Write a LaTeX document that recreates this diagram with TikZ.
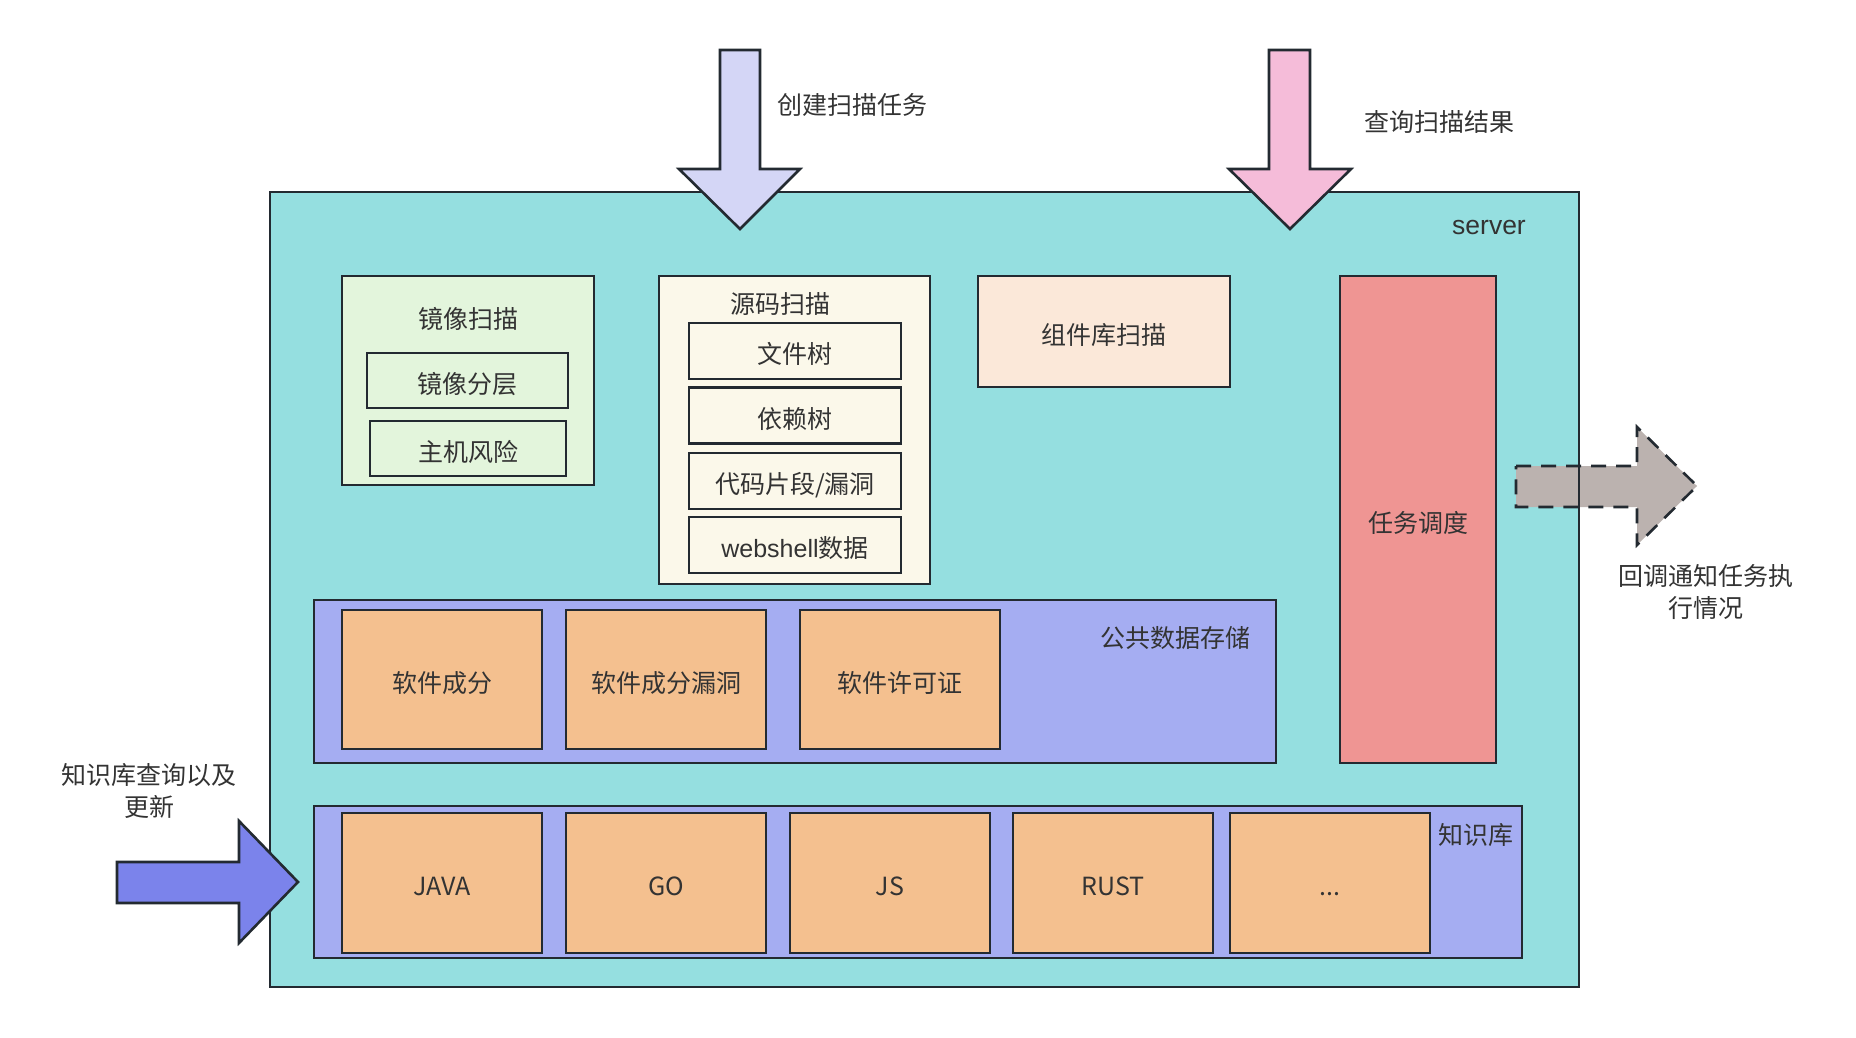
\documentclass[tikz,border=0pt]{standalone}
\usepackage{fontspec}
\setmainfont{Noto Sans CJK SC}
\newfontfamily\latinsans{Liberation Sans}
\definecolor{edge}{HTML}{232A31}
\definecolor{ink}{HTML}{333333}
\definecolor{servercol}{HTML}{95DFE0}
\definecolor{createcol}{HTML}{D4D6F6}
\definecolor{querycol}{HTML}{F5BCD9}
\definecolor{imagecol}{HTML}{E3F5DC}
\definecolor{sourcecol}{HTML}{FBF8EA}
\definecolor{compcol}{HTML}{FBE8D9}
\definecolor{taskcol}{HTML}{EF9593}
\definecolor{storecol}{HTML}{A5ADF2}
\definecolor{itemcol}{HTML}{F4C08F}
\definecolor{kbarrow}{HTML}{7B83EB}
\definecolor{cbarrow}{HTML}{BBB2AF}
\begin{document}
\begin{tikzpicture}[x=1pt,y=-1pt,
  box/.style={draw=edge, line width=2.6pt, inner sep=0pt, text=ink,
    text height=25pt, text depth=0pt,
    font=\fontsize{25}{32}\selectfont},
  txt/.style={inner sep=0pt, text=ink, align=center,
    text height=25pt, text depth=0pt,
    font=\fontsize{25}{32}\selectfont},
  twoline/.style={inner sep=0pt, text=ink, align=center,
    font=\fontsize{25}{32}\selectfont},
  blockarrow/.style={draw=edge, line width=2.6pt, line join=miter}]
\useasboundingbox (0,0) rectangle (1856,1038);

% server frame: fill first, border after the callback arrow
\fill[servercol] (270,192) rectangle (1579,987);
\coordinate (srvNW) at (270,192);
\coordinate (srvSE) at (1579,987);

% callback arrow (dashed), lies under the server border
\draw[blockarrow, fill=cbarrow, dash pattern=on 15pt off 10pt]
  (1516,466) -- (1637,466) -- (1637,427) -- (1697,486) -- (1637,545)
  -- (1637,507) -- (1516,507) -- cycle;
\draw[draw=edge, line width=2.6pt] (srvNW) rectangle (srvSE);
\node[txt, font=\fontsize{26.5}{32}\selectfont\latinsans] (server) at (1489,222) {server};

% incoming arrows
\draw[blockarrow, fill=createcol]
  (720,50) -- (760,50) -- (760,169) -- (800,169) -- (740,229)
  -- (679,169) -- (720,169) -- cycle;
\node[txt] (createlbl) at (852,102.5) {创建扫描任务};

\draw[blockarrow, fill=querycol]
  (1269,50) -- (1310,50) -- (1310,169) -- (1351,169) -- (1290,229)
  -- (1229,169) -- (1269,169) -- cycle;
\node[txt] (querylbl) at (1439,119.5) {查询扫描结果};

\draw[blockarrow, fill=kbarrow]
  (117,862) -- (239,862) -- (239,821) -- (298,882) -- (239,943)
  -- (239,903) -- (117,903) -- cycle;
\node[twoline] (kblbl) at (149,791) {知识库查询以及\\更新};

\node[twoline] (cblbl) at (1706,592) {回调通知任务执\\行情况};

% image scanning
\node[box, fill=imagecol, minimum width=252pt, minimum height=209pt] (imgscan) at (468,380.5) {};
\node[txt] (imgtitle) at (468,315.5) {镜像扫描};
\node[box, fill=imagecol, minimum width=201pt, minimum height=55pt] (layers) at (467.5,380.5) {镜像分层};
\node[box, fill=imagecol, minimum width=196pt, minimum height=55pt] (hostrisk) at (468,448.5) {主机风险};

% source scanning
\node[box, fill=sourcecol, minimum width=271pt, minimum height=308pt] (srcscan) at (794.5,430) {};
\node[txt] (srctitle) at (780,301) {源码扫描};
\node[box, fill=sourcecol, minimum width=212pt, minimum height=56pt] (filetree) at (795,351) {文件树};
\node[box, fill=sourcecol, minimum width=212pt, minimum height=56pt] (deptree) at (795,415.5) {依赖树};
\node[box, fill=sourcecol, minimum width=212pt, minimum height=56pt] (snippet) at (795,481) {代码片段/漏洞};
\node[box, fill=sourcecol, minimum width=212pt, minimum height=56pt] (webshell) at (795,545) {{\latinsans webshell}数据};

% component library scanning
\node[box, fill=compcol, minimum width=252pt, minimum height=111pt] (compscan) at (1104,331.5) {组件库扫描};

% task scheduling
\node[box, fill=taskcol, minimum width=156pt, minimum height=487pt] (sched) at (1418,519.5) {任务调度};

% shared data storage
\node[box, fill=storecol, minimum width=962pt, minimum height=163pt] (store) at (795,681.5) {};
\node[txt] (storelbl) at (1175,635) {公共数据存储};
\node[box, fill=itemcol, minimum width=200pt, minimum height=139pt] (sca) at (442,679.5) {软件成分};
\node[box, fill=itemcol, minimum width=200pt, minimum height=139pt] (scavuln) at (666,679.5) {软件成分漏洞};
\node[box, fill=itemcol, minimum width=200pt, minimum height=139pt] (license) at (900,679.5) {软件许可证};

% knowledge base
\node[box, fill=storecol, minimum width=1208pt, minimum height=152pt] (kb) at (918,882) {};
\node[txt] (kblabel) at (1476,832) {知识库};
\begin{scope}[every node/.append style={font=\fontsize{25}{32}\selectfont\latinsans}]
\node[box, fill=itemcol, minimum width=200pt, minimum height=140pt] (java) at (442,883) {JAVA};
\node[box, fill=itemcol, minimum width=200pt, minimum height=140pt] (golang) at (666,883) {GO};
\node[box, fill=itemcol, minimum width=200pt, minimum height=140pt] (js) at (890,883) {JS};
\node[box, fill=itemcol, minimum width=200pt, minimum height=140pt] (rust) at (1113,883) {RUST};
\node[box, fill=itemcol, minimum width=200pt, minimum height=140pt] (more) at (1330,883) {...};
\end{scope}
\end{tikzpicture}
\end{document}
